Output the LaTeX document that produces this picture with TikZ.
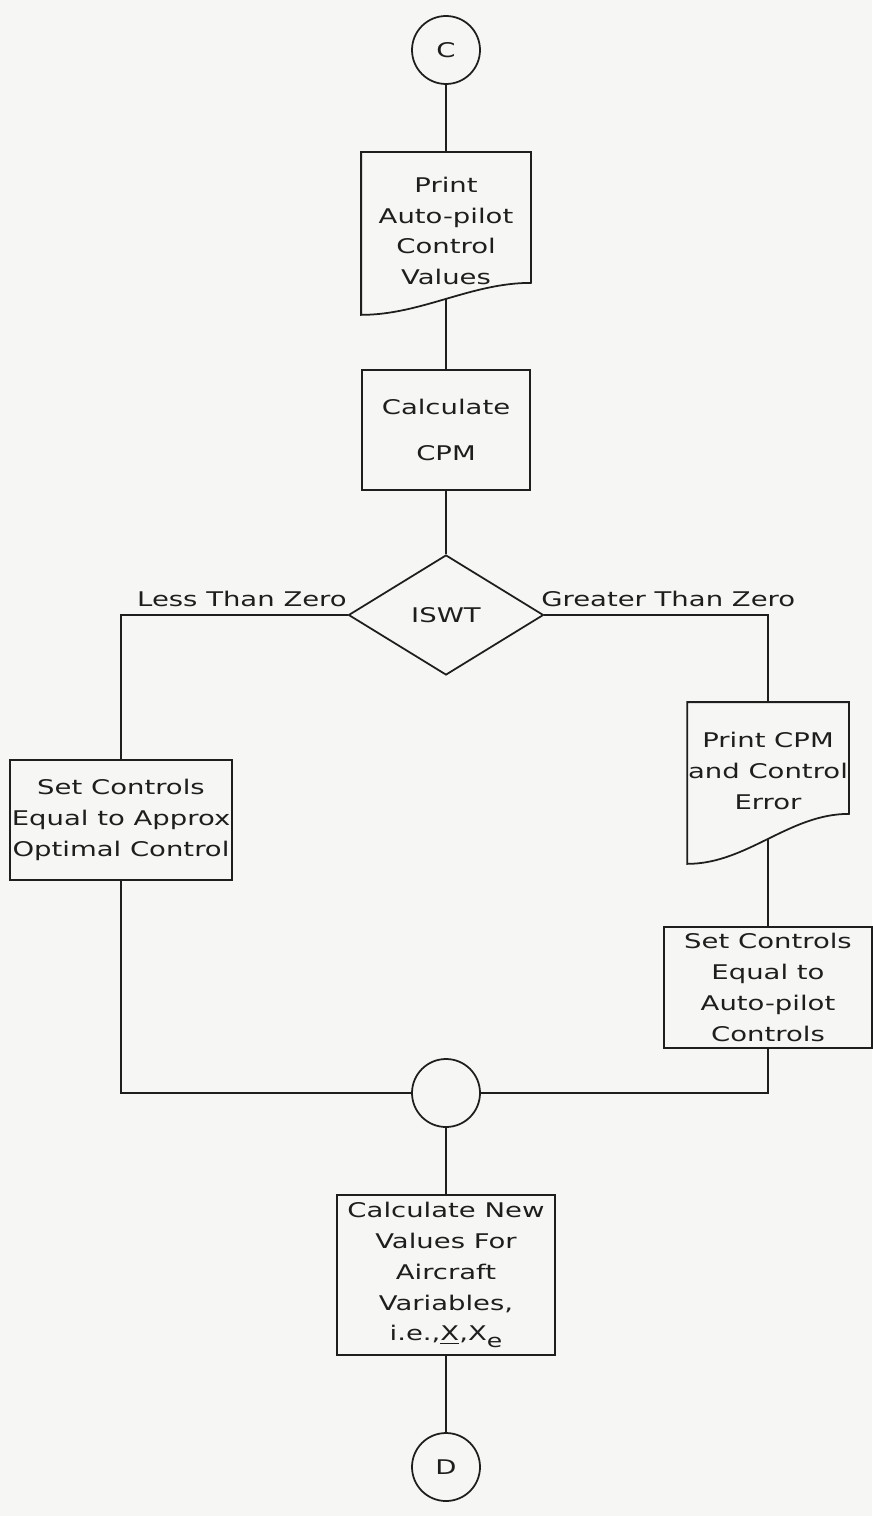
\documentclass[tikz,border=0pt]{standalone}
\usepackage{fontspec}
\setmainfont{DejaVu Sans}[FakeStretch=1.36]
\usepackage{tikz}
\usetikzlibrary{shapes.geometric,calc}
\definecolor{paper}{RGB}{246,246,244}
\definecolor{ink}{RGB}{30,30,30}

\begin{document}
\begin{tikzpicture}[line width=1pt,draw=ink,text=ink,
  every node/.style={font=\fontsize{11.5}{17.5}\selectfont},
  conn/.style={circle,draw=ink,minimum size=1.36cm,inner sep=0pt},
  block/.style={rectangle,draw=ink,align=center,inner sep=0pt},
  doc/.style={rectangle,align=center,inner sep=0pt},
  decision/.style={diamond,draw=ink,minimum width=3.9cm,minimum height=2.4cm,inner sep=0pt},
  lbl/.style={inner xsep=0pt,inner ysep=4pt}
]
\fill[paper] (0,0) rectangle (17.44,-30.32);
\useasboundingbox (0,0) rectangle (17.44,-30.32);

% Top: entry connector and print step
\node[conn] (c) at (8.92,-1.0) {C};
\node[doc,minimum width=3.36cm,minimum height=3.12cm] (print) at (8.92,-4.62) {Print\\Auto-pilot\\Control\\Values};
\draw (print.north west) -- (print.north east) -- ($(print.south east)+(0,0.54)$)
  .. controls +(-1.2,0) and +(1.2,0) .. ($(print.south west)+(0,-0.1)$) coordinate[pos=0.5] (printcut) -- cycle;
\node[block,minimum width=3.36cm,minimum height=2.4cm] (cpm) at (8.92,-8.6) {Calculate\\[9pt]CPM};
\node[decision] (iswt) at (8.92,-12.3) {ISWT};

% Branch labels
\node[lbl,anchor=south east] (less) at (iswt.west) {Less Than Zero};
\node[lbl,anchor=south west] (greater) at ($(iswt.east)+(-0.08,0)$) {Greater Than Zero};

% Left branch
\node[block,minimum width=4.44cm,minimum height=2.4cm] (approx) at (2.42,-16.4) {Set Controls\\Equal to Approx\\Optimal Control};

% Right branch
\node[doc,minimum width=3.2cm,minimum height=2.72cm] (err) at (15.36,-15.42) {Print CPM\\and Control\\Error};
\draw (err.north west) -- (err.north east) -- ($(err.south east)+(0,0.52)$)
  .. controls +(-1.2,0) and +(1.2,0) .. ($(err.south west)+(0,-0.48)$) coordinate[pos=0.5] (errcut) -- cycle;
\node[block,minimum width=4.16cm,minimum height=2.42cm] (auto) at (15.36,-19.75) {Set Controls\\Equal to\\Auto-pilot\\Controls};

% Bottom: join, update and exit connector
\node[conn] (join) at (8.92,-21.86) {};
\node[block,minimum width=4.36cm,minimum height=3.2cm] (newval) at (8.92,-25.5) {Calculate New\\Values For\\Aircraft\\Variables,\\i.e.,\underline{X},X\raisebox{-0.6ex}{\fontsize{10.5}{10.5}\selectfont e}};
\node[conn] (d) at (8.92,-29.34) {D};

% Flow lines
\draw (c) -- (print);
\draw (printcut) -- (printcut |- cpm.north);
\draw (cpm) -- (iswt);
\draw (iswt.west) -| (approx.north);
\draw (iswt.east) -| (err.north);
\draw (errcut) -- (errcut |- auto.north);
\draw (approx.south) |- (join.west);
\draw (auto.south) |- (join.east);
\draw (join) -- (newval);
\draw (newval) -- (d);

\end{tikzpicture}
\end{document}
